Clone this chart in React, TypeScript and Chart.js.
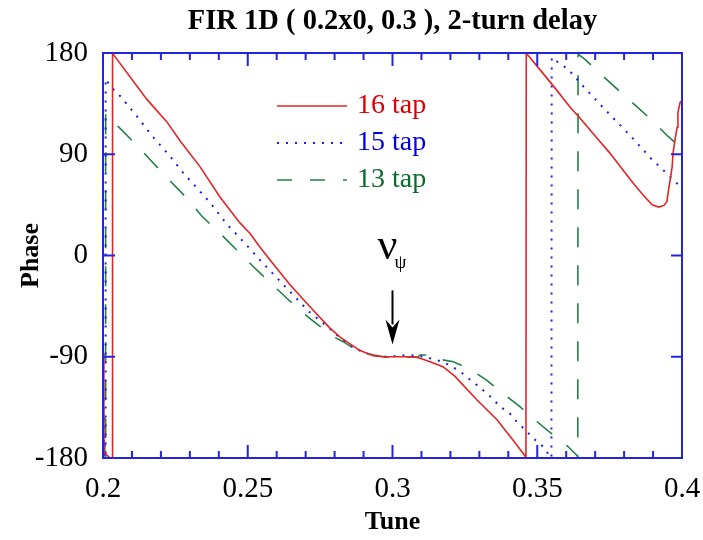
import React, { useEffect, useRef } from "react";
import { Chart, registerables } from "chart.js";

Chart.register(...registerables);

const TITLE = "FIR 1D ( 0.2x0, 0.3 ), 2-turn delay";
const X_TITLE = "Tune";
const Y_TITLE = "Phase";
const xTickValues = [0.2, 0.25, 0.3, 0.35, 0.4];
const xMinorTickValues = [0.21, 0.22, 0.23, 0.24, 0.26, 0.27, 0.28, 0.29, 0.31, 0.32, 0.33, 0.34, 0.36, 0.37, 0.38, 0.39];
const yTickValues = [-180, -90, 0, 90, 180];
const yInnerTickValues = [-90, 0, 90];
const seriesLabels = ["16 tap", "15 tap", "13 tap"];
const markerTune = 0.3;
const markerPhaseTop = -31;
const markerPhaseTip = -79;
const markerLabel = "ν";
const markerSub = "ψ";

const tune16 = [0.2, 0.2003, 0.20035, 0.2024, 0.2032, 0.2033, 0.2035, 0.2151, 0.222, 0.2266, 0.2335, 0.2404, 0.2473, 0.2508, 0.2542, 0.2577, 0.2646, 0.2715, 0.2784, 0.2819, 0.2853, 0.2888, 0.2933, 0.2968, 0.3, 0.304, 0.3078, 0.3095, 0.313, 0.3174, 0.3216, 0.3292, 0.3361, 0.3416, 0.3458, 0.3461, 0.3462, 0.3468, 0.351, 0.3561, 0.3613, 0.3648, 0.3706, 0.3751, 0.3796, 0.3831, 0.3865, 0.3897, 0.392, 0.3938, 0.3948, 0.3952, 0.3959, 0.3966, 0.3969, 0.3976, 0.3983, 0.3986, 0.3993, 0.4];
const phase16 = [-87, -138, -175, -180, -180, 180, 179, 139, 119, 102, 79, 52, 29, 19.5, 7.6, -4, -26, -45.5, -64.5, -72.5, -78.5, -84.5, -89, -90, -90, -90, -90.3, -91.4, -94.4, -98.8, -107.5, -128.4, -146, -164, -178.2, -180, 180, 178, 165, 149, 132, 122, 104.5, 91, 76, 64.5, 54, 45, 43, 44.5, 48, 55.6, 67, 79, 91, 103, 114, 127, 135.6, 138];

const tune15 = [0.2, 0.2007, 0.2009, 0.20092, 0.2027, 0.2059, 0.2113, 0.2172, 0.2228, 0.2281, 0.2312, 0.2372, 0.2425, 0.2485, 0.2542, 0.26, 0.2657, 0.2712, 0.2773, 0.2801, 0.283, 0.2859, 0.2894, 0.2934, 0.298, 0.306, 0.3112, 0.3141, 0.3173, 0.3204, 0.3231, 0.3258, 0.3288, 0.3316, 0.3345, 0.3371, 0.3402, 0.3429, 0.3461, 0.3486, 0.3523, 0.3544, 0.3549, 0.355, 0.3561, 0.3607, 0.3662, 0.3719, 0.378, 0.3838, 0.3892, 0.3953, 0.3985, 0.4];
const phase15 = [-120, -178, -180, 157, 150, 141.8, 125, 105.6, 89.3, 72.2, 63.6, 46.4, 28.6, 12.3, -4, -19.7, -35.1, -50, -62.7, -69.2, -75.1, -80.4, -85.5, -89, -90, -88.5, -90, -92.3, -94.4, -98.8, -102.4, -108.3, -114.5, -120.4, -126.9, -134.4, -139.4, -147.7, -155.7, -162.4, -170.5, -178.8, -180, 176, 173.8, 165.5, 149.5, 133.8, 117.5, 102, 86.4, 71.6, 63.6, 60];

const tune13 = [0.2, 0.2007, 0.2009, 0.20092, 0.201, 0.2053, 0.2116, 0.2174, 0.2229, 0.2287, 0.2341, 0.2404, 0.2462, 0.2517, 0.2574, 0.2635, 0.2686, 0.2744, 0.2796, 0.283, 0.2865, 0.2899, 0.2934, 0.2968, 0.3037, 0.3089, 0.3095, 0.313, 0.3141, 0.321, 0.3268, 0.3325, 0.3371, 0.344, 0.3492, 0.3555, 0.3607, 0.3638, 0.364, 0.3641, 0.3665, 0.3723, 0.3786, 0.3844, 0.3895, 0.3953, 0.4];
const phase13 = [-130, -178, -180, 126, 125, 114.5, 98.2, 82, 67.1, 51.7, 35.1, 19.7, 4.9, -9.3, -23.3, -38, -50, -61.8, -72.2, -76.6, -82.5, -85.5, -88.4, -90, -90.5, -90, -88.4, -88.4, -91.4, -94.4, -101.2, -110.7, -120.4, -134.4, -146.2, -159.6, -170, -178, -180, 179, 174.4, 160.4, 145.6, 132.3, 120.4, 105.6, 95];

const SERIF = "'Liberation Serif', 'Times New Roman', serif";
const RED = "#e42424";
const BLUE = "#1c1ce8";
const GREEN = "#23804a";
const FRAME = "#2424dc";
const TEXT_COLORS = ["#dd0000", "#0000dd", "#0b6a2e"];
const LINE_COLORS = [RED, BLUE, GREEN];
const LINE_DASHES: number[][] = [[], [2, 7], [15, 18]];

const toPoints = (xs: number[], ys: number[]) => xs.map((x, i) => ({ x, y: ys[i] }));

const frameTicksPlugin = {
  id: "frameTicks",
  afterDatasetsDraw(chart: any) {
    const { ctx, chartArea: a, scales } = chart;
    const xs = scales.x;
    const ys = scales.y;
    ctx.save();
    ctx.strokeStyle = FRAME;
    ctx.lineWidth = 2;
    ctx.beginPath();
    for (const v of xMinorTickValues) {
      const px = xs.getPixelForValue(v);
      ctx.moveTo(px, a.top);
      ctx.lineTo(px, a.top + 7);
      ctx.moveTo(px, a.bottom);
      ctx.lineTo(px, a.bottom - 7);
    }
    for (const v of xTickValues) {
      const px = xs.getPixelForValue(v);
      ctx.moveTo(px, a.top);
      ctx.lineTo(px, a.top + 13);
      ctx.moveTo(px, a.bottom);
      ctx.lineTo(px, a.bottom - 13);
    }
    for (const v of yInnerTickValues) {
      const py = ys.getPixelForValue(v);
      ctx.moveTo(a.left, py);
      ctx.lineTo(a.left + 12, py);
      ctx.moveTo(a.right, py);
      ctx.lineTo(a.right - 11, py);
    }
    ctx.stroke();
    ctx.strokeRect(a.left, a.top, a.right - a.left, a.bottom - a.top);
    ctx.restore();
  },
};

const legendPlugin = {
  id: "insideLegend",
  afterDraw(chart: any) {
    const { ctx, chartArea: a } = chart;
    ctx.save();
    seriesLabels.forEach((label, i) => {
      const y = a.top + 53 + i * 37;
      const x0 = a.left + 174;
      const x1 = a.left + 244;
      ctx.strokeStyle = LINE_COLORS[i];
      ctx.lineWidth = i === 1 ? 2 : 1.6;
      ctx.setLineDash(LINE_DASHES[i]);
      ctx.beginPath();
      ctx.moveTo(x0, y);
      ctx.lineTo(x1, y);
      ctx.stroke();
      ctx.setLineDash([]);
      ctx.fillStyle = TEXT_COLORS[i];
      ctx.font = `28px ${SERIF}`;
      ctx.textAlign = "left";
      ctx.textBaseline = "middle";
      ctx.fillText(label, a.left + 254, y);
    });
    ctx.restore();
  },
};

const markerPlugin = {
  id: "tuneMarker",
  afterDraw(chart: any) {
    const { ctx, scales } = chart;
    const px = scales.x.getPixelForValue(markerTune);
    const top = scales.y.getPixelForValue(markerPhaseTop);
    const tip = scales.y.getPixelForValue(markerPhaseTip);
    ctx.save();
    ctx.strokeStyle = "#000";
    ctx.fillStyle = "#000";
    ctx.lineWidth = 2;
    ctx.beginPath();
    ctx.moveTo(px, top);
    ctx.lineTo(px, tip - 20);
    ctx.stroke();
    ctx.beginPath();
    ctx.moveTo(px - 7, tip - 25);
    ctx.lineTo(px, tip - 17);
    ctx.lineTo(px + 7, tip - 25);
    ctx.lineTo(px, tip);
    ctx.closePath();
    ctx.fill();
    ctx.font = `44px ${SERIF}`;
    ctx.textAlign = "left";
    ctx.textBaseline = "alphabetic";
    ctx.fillText(markerLabel, px - 15, top - 31);
    ctx.font = `19px ${SERIF}`;
    ctx.fillText(markerSub, px + 2, top - 22);
    ctx.restore();
  },
};

export default function App() {
  const ref = useRef<HTMLCanvasElement | null>(null);
  useEffect(() => {
    if (!ref.current) return;
    const chart = new Chart(ref.current, {
      type: "scatter",
      data: {
        datasets: [
          { label: seriesLabels[0], data: toPoints(tune16, phase16), borderColor: RED, borderWidth: 1.6, showLine: true, pointRadius: 0, borderDash: LINE_DASHES[0] },
          { label: seriesLabels[1], data: toPoints(tune15, phase15), borderColor: BLUE, borderWidth: 2, showLine: true, pointRadius: 0, borderDash: LINE_DASHES[1] },
          { label: seriesLabels[2], data: toPoints(tune13, phase13), borderColor: GREEN, borderWidth: 1.6, showLine: true, pointRadius: 0, borderDash: [20, 18] },
        ],
      },
      options: {
        animation: false,
        responsive: false,
        devicePixelRatio: 1,
        layout: { padding: { top: 0, right: 21, bottom: 0, left: 0 } },
        plugins: {
          legend: { display: false },
          tooltip: { enabled: false },
          title: {
            display: true,
            text: TITLE,
            fullSize: false,
            color: "#000",
            font: { family: SERIF, size: 28.5, weight: "bold" },
            padding: { top: 5, bottom: 13.8 },
          },
        },
        scales: {
          x: {
            type: "linear",
            min: 0.2,
            max: 0.4,
            grid: { display: false, drawTicks: false },
            border: { display: false },
            afterBuildTicks: (s: any) => { s.ticks = xTickValues.map((value) => ({ value })); },
            afterFit: (s: any) => { s.height = 82; s.paddingLeft = 0; s.paddingRight = 0; },
            ticks: { color: "#000", font: { family: SERIF, size: 29 }, padding: 14, maxRotation: 0, autoSkip: false, callback: (v: any) => String(v) },
            title: { display: true, text: X_TITLE, color: "#000", font: { family: SERIF, size: 26, weight: "bold" }, padding: { top: 0, bottom: 2 } },
          },
          y: {
            type: "linear",
            min: -180,
            max: 180,
            grid: { display: false, drawTicks: false },
            border: { display: false },
            afterBuildTicks: (s: any) => { s.ticks = yTickValues.map((value) => ({ value })); },
            afterFit: (s: any) => { s.width = 103; s.paddingTop = 0; s.paddingBottom = 0; },
            ticks: { color: "#000", font: { family: SERIF, size: 29 }, padding: 15, autoSkip: false, callback: (v: any) => String(v) },
            title: { display: true, text: Y_TITLE, color: "#000", font: { family: SERIF, size: 26, weight: "bold" }, padding: { top: 16, bottom: 0 } },
          },
        },
      },
      plugins: [frameTicksPlugin, legendPlugin, markerPlugin],
    } as any);
    return () => chart.destroy();
  }, []);
  return (
    <div style={{ position: "fixed", left: 0, top: 0, width: 703, height: 540, background: "#fff" }}>
      <canvas ref={ref} width={703} height={540} style={{ display: "block", width: 703, height: 540 }} />
    </div>
  );
}
